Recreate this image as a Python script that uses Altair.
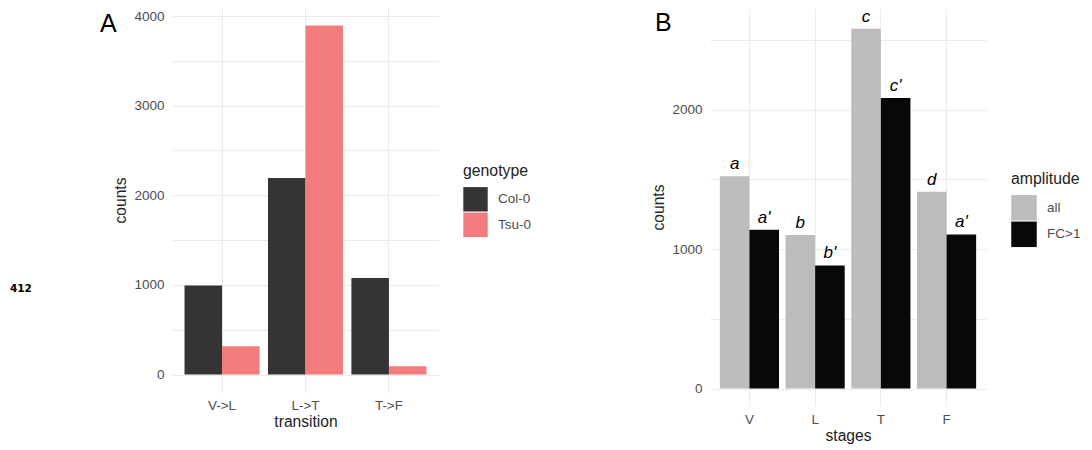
import altair as alt
import pandas as pd

# ---- Panel A data ----
transitions = ["V->L", "L->T", "T->F"]
genotypes = ["Col-0", "Tsu-0"]
col0_counts = [993, 2194, 1078]
tsu0_counts = [316, 3895, 93]
genotype_colors = ["#353334", "#F27B7D"]

# ---- Panel B data ----
stages = ["V", "L", "T", "F"]
amplitudes = ["all", "FC>1"]
all_counts = [1522, 1102, 2581, 1412]
fc_counts = [1138, 883, 2083, 1105]
letters_all = ["a", "b", "c", "d"]
letters_fc = ["a'", "b'", "c'", "a'"]
amplitude_colors = ["#BDBCBA", "#0A0806"]

side_note = "412"

FONT = "Liberation Sans"
GRID = "#EBEBEB"
LABEL_COLOR = "#4D4D4D"
TITLE_COLOR = "#222222"

dfA = pd.DataFrame(
    [{"transition": t, "genotype": "Col-0", "counts": v} for t, v in zip(transitions, col0_counts)]
    + [{"transition": t, "genotype": "Tsu-0", "counts": v} for t, v in zip(transitions, tsu0_counts)]
)
dfB = pd.DataFrame(
    [{"stages": s, "amplitude": "all", "counts": v, "lab": l} for s, v, l in zip(stages, all_counts, letters_all)]
    + [{"stages": s, "amplitude": "FC>1", "counts": v, "lab": l} for s, v, l in zip(stages, fc_counts, letters_fc)]
)

def y_axis(values):
    return alt.Axis(
        values=values, format="d",
        labelExpr="datum.value % 1000 == 0 ? datum.label : ''",
        grid=True, gridColor=GRID, gridWidth=1,
        ticks=False, tickSize=0, domain=False,
        labelFont=FONT, labelFontSize=13.5, labelColor=LABEL_COLOR, labelPadding=8,
        titleFont=FONT, titleFontSize=15.6, titleFontWeight="normal", titleColor=TITLE_COLOR,
        titlePadding=5,
    )

def x_axis():
    return alt.Axis(
        grid=True, gridColor=GRID, gridWidth=1, bandPosition=0.5,
        ticks=False, tickSize=0, domain=False, labelAngle=0,
        labelFont=FONT, labelFontSize=13.5, labelColor=LABEL_COLOR, labelPadding=6,
        titleFont=FONT, titleFontSize=15.6, titleFontWeight="normal", titleColor=TITLE_COLOR,
        titlePadding=3,
    )

def legend(x, y, side):
    return alt.Legend(
        orient="none", legendX=x, legendY=y,
        symbolType="square", symbolSize=side * side, symbolStrokeWidth=0,
        symbolOpacity=1, rowPadding=0.5, labelOffset=10,
        labelFont=FONT, labelFontSize=13.5, labelColor=LABEL_COLOR,
        titleFont=FONT, titleFontSize=15.8, titleFontWeight="normal", titleColor=TITLE_COLOR,
        titlePadding=7,
    )

# ---- Panel A ----
baseA = alt.Chart(dfA)
barsA = baseA.mark_bar().encode(
    x=alt.X("transition:N", sort=transitions, title="transition",
            scale=alt.Scale(paddingInner=0.1, paddingOuter=0.15), axis=x_axis()),
    xOffset=alt.XOffset("genotype:N", sort=genotypes, scale=alt.Scale(paddingInner=0, paddingOuter=0)),
    y=alt.Y("counts:Q", title="counts",
            scale=alt.Scale(domain=[-195, 4090], zero=False, nice=False),
            axis=y_axis(list(range(0, 4001, 500)))),
    color=alt.Color("genotype:N", sort=genotypes, title="genotype",
                    scale=alt.Scale(domain=genotypes, range=genotype_colors),
                    legend=legend(291, 156, 24.4)),
)
labelA = alt.Chart(pd.DataFrame({"t": ["A"]})).mark_text(
    align="left", baseline="alphabetic", font=FONT, fontSize=25, color="black"
).encode(text="t:N", x=alt.value(-72), y=alt.value(24))
noteA = alt.Chart(pd.DataFrame({"t": [side_note]})).mark_text(
    align="left", baseline="alphabetic", font="DejaVu Sans", fontWeight="bold", fontSize=10.5, color="black"
).encode(text="t:N", x=alt.value(-162), y=alt.value(284))
panelA = alt.layer(barsA, labelA, noteA).properties(width=267, height=384)

# ---- Panel B ----
baseB = alt.Chart(dfB)
xB = alt.X("stages:N", sort=stages, title="stages",
           scale=alt.Scale(paddingInner=0.1, paddingOuter=0.15), axis=x_axis())
xoB = alt.XOffset("amplitude:N", sort=amplitudes, scale=alt.Scale(paddingInner=0, paddingOuter=0))
yB = alt.Y("counts:Q", title="counts",
           scale=alt.Scale(domain=[-125, 2729], zero=False, nice=False),
           axis=y_axis(list(range(0, 2501, 500))))
barsB = baseB.mark_bar().encode(
    x=xB, xOffset=xoB, y=yB,
    color=alt.Color("amplitude:N", sort=amplitudes, title="amplitude",
                    scale=alt.Scale(domain=amplitudes, range=amplitude_colors),
                    legend=legend(301, 164, 25.5)),
)
textB = baseB.mark_text(
    baseline="alphabetic", align="center", dy=-7, font=FONT, fontSize=17,
    fontStyle="italic", color="black"
).encode(x=xB, xOffset=xoB, y=yB, text="lab:N")
labelB = alt.Chart(pd.DataFrame({"t": ["B"]})).mark_text(
    align="left", baseline="alphabetic", font=FONT, fontSize=25, color="black"
).encode(text="t:N", x=alt.value(-55), y=alt.value(23))
panelB = alt.layer(barsB, textB, labelB).properties(width=276, height=398)

chart = alt.hconcat(panelA, panelB, spacing=271, bounds="flush").resolve_scale(
    x="independent", y="independent", xOffset="independent", color="independent"
).resolve_legend(color="independent").properties(
    padding={"left": 10, "top": 7, "right": 5, "bottom": 5},
    background="white",
).configure_view(stroke=None)

chart.save("out.html", embed_options={"renderer": "svg", "actions": False})
